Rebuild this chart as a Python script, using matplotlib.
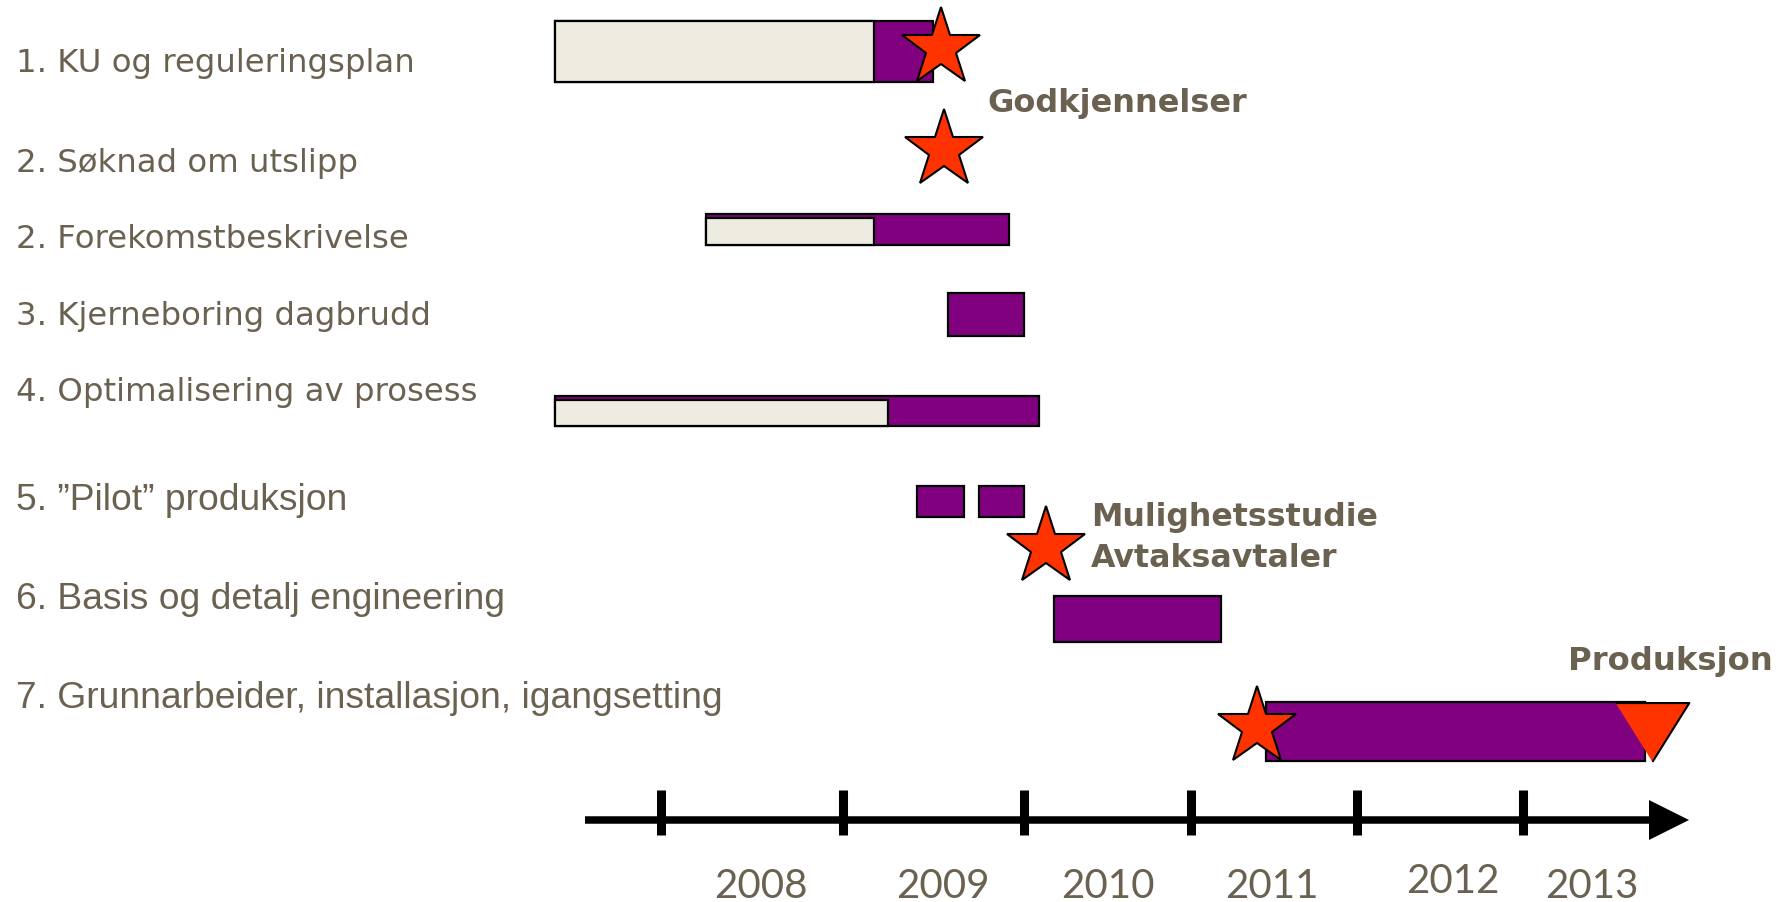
import numpy as np
import matplotlib
matplotlib.use("Agg")
import matplotlib.pyplot as plt
from matplotlib import font_manager, transforms

# ---------------- data ----------------
tasks = [
    "1. KU og reguleringsplan",
    "2. Søknad om utslipp",
    "2. Forekomstbeskrivelse",
    "3. Kjerneboring dagbrudd",
    "4. Optimalisering av prosess",
    "5. \u201dPilot\u201d produksjon",
    "6. Basis og detalj engineering",
    "7. Grunnarbeider, installasjon, igangsetting",
]
years = [2008, 2009, 2010, 2011, 2012, 2013]

# planned activity (purple), in fractional years
plan_row = [0, 2, 3, 4, 5, 5, 6, 7]
plan_start = [2007.41, 2008.25, 2009.58, 2007.41, 2009.41, 2009.75, 2010.18, 2011.45]
plan_end = [2009.50, 2009.92, 2010.00, 2010.09, 2009.67, 2010.00, 2011.18, 2013.73]

# completed part (beige)
done_row = [0, 2, 4]
done_start = [2007.41, 2008.25, 2007.41]
done_end = [2009.17, 2009.17, 2009.25]

# milestones (stars) and production start (triangle)
milestone_x = [2009.54, 2009.56, 2010.13, 2011.40]
production_x = [2013.77]

notes = ["Godkjennelser", "Mulighetsstudie\nAvtaksavtaler", "Produksjon"]
notes_x = [2009.80, 2010.40, 2013.27]

# ---------------- layout / style ----------------
# timeline: year boundaries -> horizontal position of the drawn timeline ticks
YB = np.array([1990, 2007, 2008, 2009, 2010, 2011, 2012, 2013, 2014, 2030], dtype=float)
PX = np.array([-2579, 481, 661, 842.7, 1024, 1191, 1356.7, 1523, 1690, 4362], dtype=float)

ROW_Y = [52.5, 151, 230.5, 315.5, 412, 502.5, 620, 732.5]
ROW_H = [61, 0, 31, 43, 30, 31, 46, 59]
DONE_INSET = [0, 4, 4]
LABEL_BASE = [72, 172, 248.5, 325, 401, 510, 609, 708]
LABEL_SIZE = [23.3, 23.3, 23.3, 23.3, 23.3, 26.8, 26.8, 26.8]
MILESTONE_Y = [49, 151, 548, 728]
PROD_Y = [732.5]
NOTES_BASE = [112, 567, 670]
NOTES_SIZE = [23, 22.8, 23.2]
YEAR_LABEL_X = [2008.55, 2009.55, 2010.50, 2011.49, 2012.58, 2013.41]
YEAR_LABEL_BASE = [898, 898, 898, 898, 893, 898]
AXIS_Y = 820.7

PURPLE = "#800080"
BEIGE = "#eeebe0"
STAR = "#ff3300"
TXT = "#6b6150"


def pick(names):
    for n in names:
        try:
            font_manager.findfont(font_manager.FontProperties(family=n),
                                  fallback_to_default=False)
            return n
        except Exception:
            pass
    return "DejaVu Sans"


F_WIDE = pick(["DejaVu Sans"])
F_ARIAL = pick(["Liberation Sans", "DejaVu Sans"])
F_YEAR = pick(["Lato", "Open Sans", "DejaVu Sans"])

fig = plt.figure(figsize=(17.87, 9.03), dpi=100)
ax = fig.add_axes([0, 0, 1, 1])


def fwd(t):
    return np.interp(t, YB, PX)


def inv(p):
    return np.interp(p, PX, YB)


ax.set_xscale("function", functions=(fwd, inv))
ax.set_xlim(inv(0), inv(1787))
ax.set_ylim(903, 0)
ax.axis("off")

# planned bars
py = [ROW_Y[r] for r in plan_row]
ph = [ROW_H[r] for r in plan_row]
ax.barh(py, np.array(plan_end) - np.array(plan_start), left=plan_start, height=ph,
        color=PURPLE, edgecolor="black", linewidth=1.6, zorder=2)

# done bars
dy = [ROW_Y[r] + DONE_INSET[i] / 2 for i, r in enumerate(done_row)]
dh = [ROW_H[r] - DONE_INSET[i] for i, r in enumerate(done_row)]
ax.barh(dy, np.array(done_end) - np.array(done_start), left=done_start, height=dh,
        color=BEIGE, edgecolor="black", linewidth=1.6, zorder=3)

# milestones
ax.plot(milestone_x, MILESTONE_Y, ls="none", marker="*", ms=59,
        mfc=STAR, mec="black", mew=1.5, zorder=5)
ax.plot(production_x, PROD_Y, ls="none",
        marker=[(-1, 0.8), (1, 0.8), (0, -0.8)], ms=53,
        mfc=STAR, mec="black", mew=1.5, zorder=5)

# timeline axis
ax.plot([2007.58, 2013.874], [AXIS_Y, AXIS_Y], color="black", lw=5.4,
        solid_capstyle="butt", zorder=2)
ax.plot([2013.874], [AXIS_Y], marker=">", ms=28.8, color="black", mew=0, zorder=2)
ax.vlines(years, AXIS_Y - 30, AXIS_Y + 15, color="black", lw=6.5, zorder=2)

for x, yb, yr in zip(YEAR_LABEL_X, YEAR_LABEL_BASE, years):
    ax.text(x, yb, str(yr), ha="center", va="baseline", fontsize=29,
            family=F_YEAR, color=TXT)

# task labels
bt = transforms.blended_transform_factory(ax.transAxes, ax.transData)
for i, (t, yb, fs) in enumerate(zip(tasks, LABEL_BASE, LABEL_SIZE)):
    fam = F_WIDE if i < 5 else F_ARIAL
    ax.text(16 / 1787, yb, t, transform=bt, ha="left", va="baseline",
            fontsize=fs, family=fam, color=TXT)

# notes
for t, x, yb, fs in zip(notes, notes_x, NOTES_BASE, NOTES_SIZE):
    ax.text(x, yb, t, ha="left", va="baseline", fontsize=fs, family=F_WIDE,
            fontweight="bold", color=TXT, linespacing=1.4)

fig.savefig("out.png", dpi=100, facecolor="white")
